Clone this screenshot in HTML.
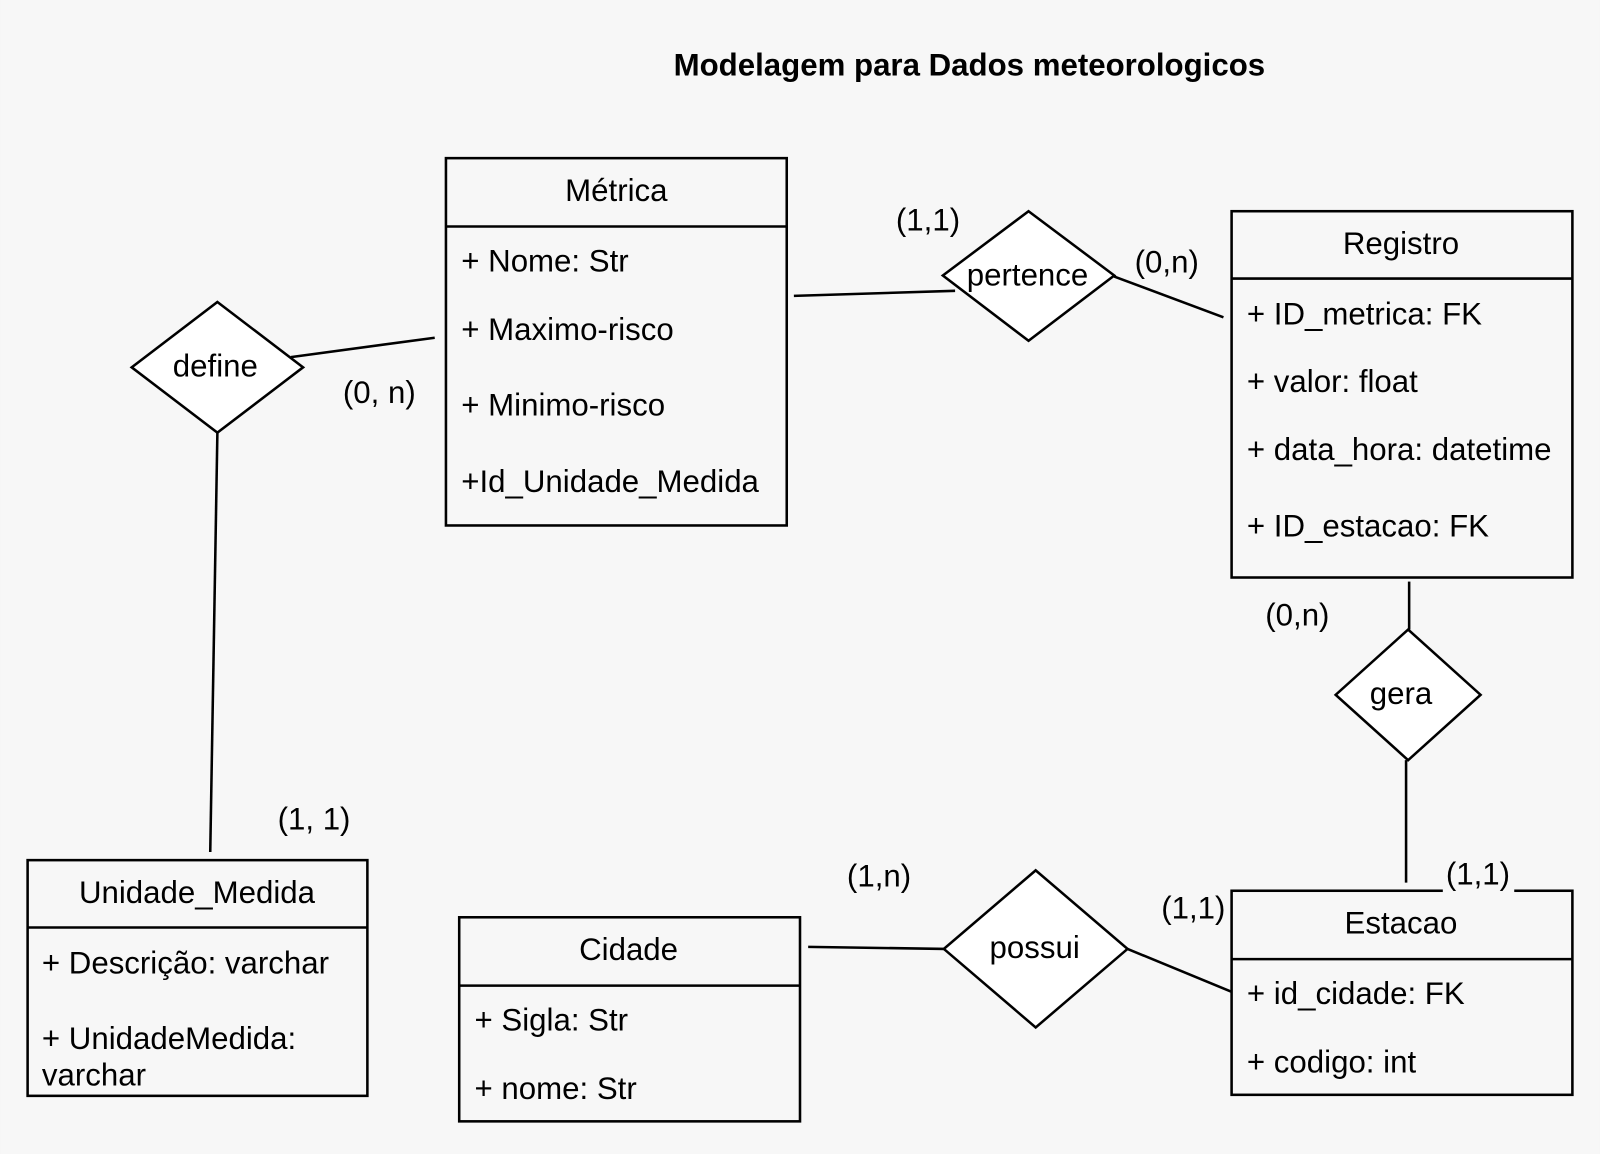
<!DOCTYPE html>
<html><head><meta charset="utf-8"><style>
html,body{margin:0;padding:0;background:#f7f7f7;}
svg{display:block;}
text{font-family:"Liberation Sans",sans-serif;font-size:30.6px;fill:#000;}
</style></head><body>
<svg width="1600" height="1154" viewBox="0 0 1568 1131" xmlns="http://www.w3.org/2000/svg">
<rect x="0" y="0" width="1568" height="1131" fill="#f7f7f7"/>
<text x="950" y="74" text-anchor="middle" font-weight="bold" style="font-size:30.6px">Modelagem para Dados meteorologicos</text>
<g fill="none" stroke="#000" stroke-width="2.5">
<line x1="285" y1="350" x2="426" y2="331"/>
<line x1="213" y1="424" x2="206" y2="835"/>
<line x1="778" y1="290" x2="936" y2="285"/>
<line x1="1092" y1="271" x2="1199" y2="311"/>
<line x1="1381" y1="570" x2="1381" y2="617"/>
<line x1="1378" y1="745" x2="1378" y2="865"/>
<line x1="792" y1="928" x2="926" y2="930"/>
<line x1="1105" y1="930" x2="1207" y2="972"/>
</g>
<g fill="#f7f7f7" stroke="#000" stroke-width="2.5">
<rect x="437" y="155" width="334" height="360"/><line x1="437" y1="222" x2="771" y2="222"/>
<rect x="1207" y="207" width="334" height="359"/><line x1="1207" y1="273" x2="1541" y2="273"/>
<rect x="27" y="843" width="333" height="231"/><line x1="27" y1="909" x2="360" y2="909"/>
<rect x="450" y="899" width="334" height="200"/><line x1="450" y1="966" x2="784" y2="966"/>
<rect x="1207" y="873" width="334" height="200"/><line x1="1207" y1="940" x2="1541" y2="940"/>
</g>
<g fill="#fff" stroke="#000" stroke-width="2.5">
<polygon points="213,296 297,360 213,424 129,360"/>
<polygon points="1008,207 1092,270 1008,334 924,270"/>
<polygon points="1380,617 1451,681 1380,745 1309,681"/>
<polygon points="1015,853 1105,930 1015,1007 925,930"/>
</g>
<rect x="1414" y="858" width="70" height="28" fill="#f7f7f7"/>
<g text-anchor="middle">
<text x="604" y="197">Métrica</text>
<text x="1373" y="249">Registro</text>
<text x="193" y="885">Unidade_Medida</text>
<text x="616" y="941">Cidade</text>
<text x="1373" y="915">Estacao</text>
<text x="211" y="369">define</text>
<text x="1007" y="280">pertence</text>
<text x="1373" y="690">gera</text>
<text x="1014" y="939">possui</text>
</g>
<text x="452" y="266">+ Nome: Str</text>
<text x="452" y="333">+ Maximo-risco</text>
<text x="452" y="407">+ Minimo-risco</text>
<text x="452" y="482">+Id_Unidade_Medida</text>
<text x="1222" y="318">+ ID_metrica: FK</text>
<text x="1222" y="384">+ valor: float</text>
<text x="1222" y="451">+ data_hora: datetime</text>
<text x="1222" y="526">+ ID_estacao: FK</text>
<text x="41" y="954">+ Descrição: varchar</text>
<text x="41" y="1028">+ UnidadeMedida:</text>
<text x="41" y="1064">varchar</text>
<text x="465" y="1010">+ Sigla: Str</text>
<text x="465" y="1077">+ nome: Str</text>
<text x="1222" y="984">+ id_cidade: FK</text>
<text x="1222" y="1051">+ codigo: int</text>
<text x="878" y="226">(1,1)</text>
<text x="1112" y="267">(0,n)</text>
<text x="336" y="395">(0, n)</text>
<text x="272" y="813">(1, 1)</text>
<text x="1240" y="613">(0,n)</text>
<text x="1417" y="867">(1,1)</text>
<text x="830" y="869">(1,n)</text>
<text x="1138" y="900">(1,1)</text>
</svg>
</body></html>
